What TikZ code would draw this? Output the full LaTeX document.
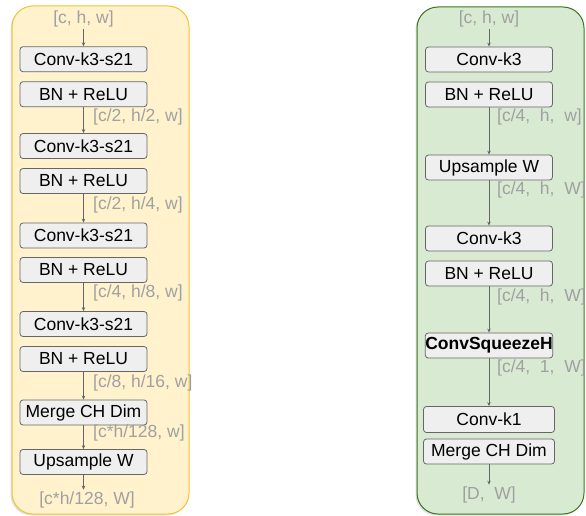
\documentclass[tikz,border=0pt]{standalone}
\usepackage{fontspec}
\setmainfont{Liberation Sans}
\usetikzlibrary{arrows.meta,shadows}

\definecolor{panelYellow}{HTML}{FFF2CC}
\definecolor{edgeYellow}{HTML}{F1C232}
\definecolor{panelGreen}{HTML}{D9EAD3}
\definecolor{edgeGreen}{HTML}{38761D}
\definecolor{boxGray}{HTML}{EFEFEF}
\definecolor{edgeGray}{HTML}{666666}
\definecolor{dimGray}{HTML}{A0A0A0}

\tikzstyle{every node} = [font=\fontsize{17.5}{20}\selectfont]
\tikzstyle{panel} = [line width=1pt, rounded corners=21pt,
    drop shadow={shadow xshift=-1.5pt, shadow yshift=-1.5pt, opacity=0.25}]
\tikzstyle{layer} = [draw=edgeGray, fill=boxGray, line width=0.8pt, rounded corners=3pt,
    minimum width=127pt, minimum height=25pt, inner sep=0pt]
\tikzstyle{dim} = [text=dimGray, inner sep=2pt]
\tikzstyle{flow} = [draw=edgeGray, line width=0.8pt, -{Stealth[length=4pt,width=3.5pt]}]

\begin{document}
\begin{tikzpicture}[x=1pt, y=-1pt]
    \useasboundingbox (0,0) rectangle (586,516);

    % Panels
    \fill[panel, fill=panelYellow, draw=edgeYellow] (12,6) rectangle (189,514);
    \fill[panel, fill=panelGreen, draw=edgeGreen] (417,7) rectangle (584,514);

    % Left branch
    \node[dim] (lin) at (83.5,19) {[c, h, w]};
    \foreach \n/\y/\t in {1/59.2/Conv-k3-s21, 2/94.2/BN + ReLU,
                          3/146/Conv-k3-s21, 4/181/BN + ReLU,
                          5/235.5/Conv-k3-s21, 6/270/BN + ReLU,
                          7/324/Conv-k3-s21, 8/359/BN + ReLU,
                          9/412.5/Merge CH Dim, 10/462/Upsample W} {
        \node[layer] (l\n) at (83.5,\y) {\t};
    }
    \node[dim, anchor=west] (ld1) at (91,117) {[c/2, h/2, w]};
    \node[dim, anchor=west] (ld2) at (91,205) {[c/2, h/4, w]};
    \node[dim, anchor=west] (ld3) at (91,293) {[c/4, h/8, w]};
    \node[dim, anchor=west] (ld4) at (91,383) {[c/8, h/16, w]};
    \node[dim, anchor=west] (ld5) at (91,433) {[c*h/128, w]};
    \node[dim] (lout) at (87,500) {[c*h/128, W]};

    \draw[flow] (lin) -- (l1);
    \draw[flow] (l2) -- (l3);
    \draw[flow] (l4) -- (l5);
    \draw[flow] (l6) -- (l7);
    \draw[flow] (l8) -- (l9);
    \draw[flow] (l9) -- (l10);
    \draw[flow] (l10) -- (l10 |- lout.north);

    % Right branch
    \node[dim] (rin) at (489,19) {[c, h, w]};
    \foreach \n/\y/\t in {1/59.5/Conv-k3, 2/94.5/BN + ReLU,
                          3/167.5/Upsample W, 4/238.5/Conv-k3,
                          5/273.5/BN + ReLU, 6/345.5/\textbf{ConvSqueezeH}} {
        \node[layer] (r\n) at (489,\y) {\t};
    }
    \node[layer, minimum width=131pt, minimum height=26pt] (r7) at (489,419.5) {Conv-k1};
    \node[layer, minimum width=131pt] (r8) at (489,451.5) {Merge CH Dim};
    \node[dim, anchor=west] (rd1) at (495,117) {[c/4,\ \ h,\ \ w]};
    \node[dim, anchor=west] (rd2) at (495,190) {[c/4,\ \ h,\ \ W]};
    \node[dim, anchor=west] (rd3) at (495,297) {[c/4,\ \ h,\ \ W]};
    \node[dim, anchor=west] (rd4) at (495,368) {[c/4,\ \ 1,\ \ W]};
    \node[dim] (rout) at (489,495) {[D,\ \ W]};

    \draw[flow] (rin) -- (r1);
    \draw[flow] (r2) -- (r3);
    \draw[flow] (r3) -- (r4);
    \draw[flow] (r5) -- (r6);
    \draw[flow] (r6) -- (r7);
    \draw[flow] (r8) -- (rout);
\end{tikzpicture}
\end{document}
